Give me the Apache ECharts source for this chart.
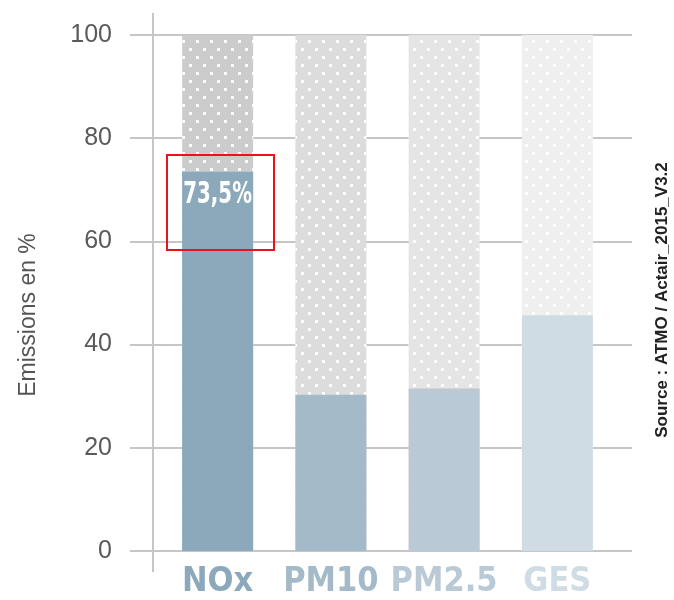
<!DOCTYPE html>
<html>
<head>
<meta charset="utf-8">
<script src="https://cdn.jsdelivr.net/npm/echarts@6/dist/echarts.min.js"></script>
<style>
  html, body { margin: 0; padding: 0; background: #ffffff; }
  #chart { width: 674px; height: 600px; }
</style>
</head>
<body>
<div id="chart"></div>
<script>
// données
const categories = ['NOx', 'PM10', 'PM2.5', 'GES'];
const shares = [73.5, 30.3, 31.5, 45.7];   // part des émissions (%)
const totals = [100, 100, 100, 100];       // fond pointillé
const labelled = ['NOx'];                  // seule barre annotée

// couleurs
const barColors = ['#8ca9bb', '#a5bac9', '#b9c9d6', '#d0dce4'];
const backColors = ['#cccccc', '#dcdcdc', '#e5e5e5', '#efefef'];
const gridColor = '#c6c6c6';
const cond = '"DejaVu Sans Condensed", "Liberation Sans", Arial, sans-serif';
const sans = '"Liberation Sans", Arial, sans-serif';

const dots = {
  symbol: 'rect',
  symbolSize: 1,
  color: 'rgba(255,255,255,0.9)',
  dashArrayX: [[3, 11], [0, 7, 3, 4]],
  dashArrayY: [3, 4.5],
  rotation: 0
};

const chart = echarts.init(document.getElementById('chart'));

const option = {
  animation: false,
  backgroundColor: '#ffffff',
  grid: [
    // grille des lignes horizontales + étiquettes
    { left: 130, right: 42, top: 35, bottom: 49 },
    // grille des barres
    { left: 161, right: 60, top: 35, bottom: 49 }
  ],
  xAxis: [
    { gridIndex: 0, type: 'category', data: categories, show: false },
    {
      gridIndex: 1,
      type: 'category',
      data: categories,
      axisLine: { show: false },
      axisTick: { show: false },
      axisLabel: {
        interval: 0,
        margin: 14,
        fontFamily: cond,
        fontWeight: 'bold',
        fontSize: 34,
        color: (v, i) => barColors[i]
      }
    }
  ],
  yAxis: [
    {
      gridIndex: 0,
      type: 'value',
      min: 0,
      max: 100,
      interval: 20,
      name: 'Emissions en %',
      nameLocation: 'middle',
      nameRotate: 90,
      nameGap: 90,
      nameTextStyle: {
        fontFamily: sans,
        fontSize: 23,
        color: '#555555',
        padding: [0, 44, 0, 0]
      },
      axisLine: { show: false },
      axisTick: { show: false },
      axisLabel: {
        margin: 18,
        fontFamily: sans,
        fontSize: 25,
        color: '#5a5a5a'
      },
      splitLine: { lineStyle: { color: gridColor, width: 2 } }
    },
    {
      gridIndex: 1,
      type: 'value',
      min: 0,
      max: 100,
      interval: 20,
      show: false,
      splitLine: { show: false }
    }
  ],
  series: [
    {
      name: 'total',
      type: 'bar',
      xAxisIndex: 1,
      yAxisIndex: 1,
      barWidth: 71,
      barGap: '-100%',
      data: totals.map((v, i) => ({
        value: v,
        itemStyle: { color: backColors[i], decal: dots }
      }))
    },
    {
      name: 'part',
      type: 'bar',
      xAxisIndex: 1,
      yAxisIndex: 1,
      barWidth: 71,
      barGap: '-100%',
      z: 3,
      data: shares.map((v, i) => ({ value: v, itemStyle: { color: barColors[i] } }))
    }
  ],
  graphic: [
    {
      type: 'line',
      shape: { x1: 153, y1: 13, x2: 153, y2: 572 },
      style: { stroke: gridColor, lineWidth: 2 },
      z: 1
    },
    {
      type: 'rect',
      shape: { x: 167, y: 155, width: 107, height: 95 },
      style: { fill: 'none', stroke: '#e8141b', lineWidth: 2 },
      z: 10
    },
    {
      type: 'text',
      x: 662,
      y: 300,
      rotation: Math.PI / 2,
      style: {
        text: 'Source : ATMO / Actair_2015_V3.2',
        fontFamily: sans,
        fontWeight: 'bold',
        fontSize: 17,
        fill: '#222222',
        align: 'center',
        verticalAlign: 'middle'
      },
      z: 10
    }
  ]
};

chart.setOption(option);

// étiquette « 73,5% » posée à partir de l'échelle de l'axe (texte étiré en hauteur)
const labels = labelled.map((name) => {
  const i = categories.indexOf(name);
  const p = chart.convertToPixel({ xAxisIndex: 1, yAxisIndex: 1 }, [name, shares[i]]);
  return {
    type: 'text',
    x: p[0],
    y: p[1] + 9,
    scaleY: 1.35,
    style: {
      text: String(shares[i]).replace('.', ',') + '%',
      fontFamily: cond,
      fontWeight: 'bold',
      fontSize: 22,
      fill: '#ffffff',
      align: 'center',
      verticalAlign: 'top'
    },
    z: 9
  };
});
chart.setOption({ graphic: option.graphic.concat(labels) });
</script>
</body>
</html>
